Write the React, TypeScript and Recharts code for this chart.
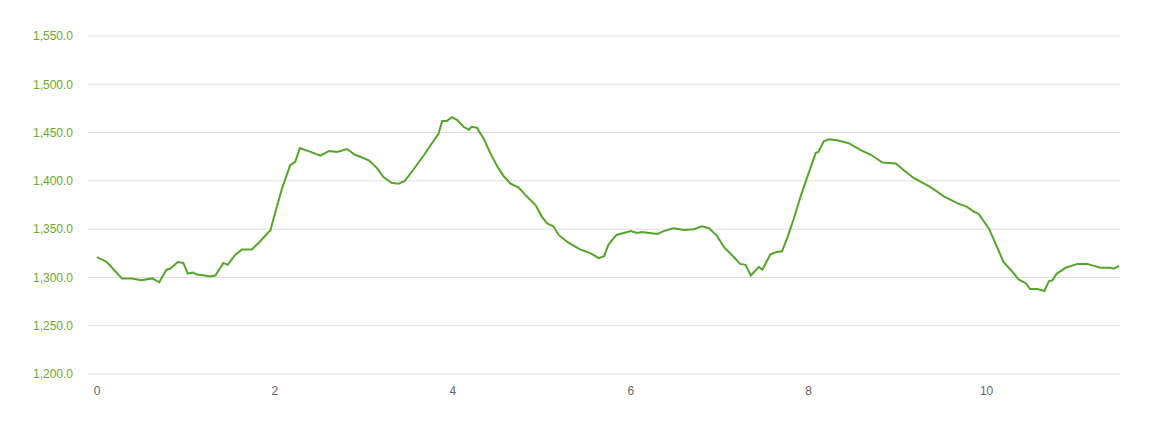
import { CartesianGrid, Line, LineChart, XAxis, YAxis } from 'recharts'

// distance along the route (km)
const distanceKm = [
  0.0, 0.11, 0.28, 0.39, 0.5, 0.62, 0.7, 0.78, 0.82, 0.91, 0.97, 1.02, 1.08, 1.12, 1.21, 1.27, 1.33, 1.42, 1.47,
  1.55, 1.63, 1.74, 1.83, 1.95, 2.0, 2.08, 2.17, 2.23, 2.28, 2.4, 2.51, 2.61, 2.7, 2.81, 2.9, 2.96, 3.06, 3.15,
  3.22, 3.31, 3.39, 3.46, 3.56, 3.67, 3.78, 3.84, 3.88, 3.93, 3.99, 4.05, 4.12, 4.18, 4.21, 4.27, 4.35, 4.42, 4.5,
  4.57, 4.65, 4.74, 4.83, 4.93, 5.0, 5.06, 5.13, 5.19, 5.3, 5.43, 5.55, 5.64, 5.7, 5.75, 5.84, 5.92, 6.0, 6.07,
  6.13, 6.21, 6.3, 6.37, 6.48, 6.6, 6.71, 6.8, 6.88, 6.97, 7.05, 7.14, 7.23, 7.29, 7.35, 7.44, 7.48, 7.57, 7.63,
  7.7, 7.76, 7.83, 7.91, 8.0, 8.08, 8.11, 8.17, 8.23, 8.32, 8.45, 8.58, 8.7, 8.83, 8.98, 9.07, 9.18, 9.36, 9.41,
  9.52, 9.67, 9.78, 9.86, 9.91, 10.03, 10.12, 10.19, 10.27, 10.36, 10.44, 10.49, 10.57, 10.65, 10.7, 10.74,
  10.79, 10.89, 11.02, 11.13, 11.28, 11.39, 11.43, 11.49,
]

// elevation (m)
const elevationM = [
  1321, 1316, 1299, 1299, 1297, 1299, 1295, 1308, 1309, 1316, 1315, 1304, 1305, 1303, 1302, 1301, 1302, 1315, 1313,
  1323, 1329, 1329, 1337, 1349, 1366, 1392, 1416, 1420, 1434, 1430, 1426, 1431, 1430, 1433, 1427, 1425, 1421, 1413,
  1404, 1398, 1397, 1400, 1412, 1426, 1441, 1449, 1462, 1462, 1466, 1463, 1456, 1453, 1456, 1455, 1443, 1429, 1415,
  1405, 1397, 1393, 1384, 1375, 1363, 1356, 1353, 1344, 1336, 1329, 1325, 1320, 1322, 1334, 1344, 1346, 1348, 1346,
  1347, 1346, 1345, 1348, 1351, 1349, 1350, 1353, 1351, 1343, 1331, 1323, 1314, 1313, 1302, 1311, 1308, 1324, 1326,
  1327, 1341, 1360, 1384, 1408, 1429, 1430, 1441, 1443, 1442, 1439, 1432, 1427, 1419, 1418, 1411, 1403, 1394, 1391,
  1384, 1377, 1373, 1368, 1366, 1350, 1331, 1316, 1308, 1298, 1294, 1288, 1288, 1286, 1296, 1297, 1304, 1310, 1314,
  1314, 1310, 1310, 1309, 1312,
]

const xTicks = [0, 2, 4, 6, 8, 10]
const yTicks = [1200, 1250, 1300, 1350, 1400, 1450, 1500, 1550]

const profile = distanceKm.map((d, i) => ({ distance: d, elevation: elevationM[i] }))

const fmtElevation = (v: number) =>
  v.toLocaleString('en-US', { minimumFractionDigits: 1, maximumFractionDigits: 1 })

function ElevationChart() {
  return (
    <div style={{ position: 'absolute', left: 0, top: 0, background: '#fff' }}>
      <LineChart
        width={1160}
        height={422}
        data={profile}
        margin={{ top: 36, right: 40, bottom: 18, left: 0 }}
        style={{ fontFamily: 'Arial, "Liberation Sans", sans-serif' }}
      >
        <CartesianGrid vertical={false} stroke="#dddddd" />
        <XAxis
          dataKey="distance"
          type="number"
          domain={[0, 11.5]}
          ticks={xTicks}
          padding={{ left: 9, right: 0 }}
          axisLine={false}
          tickLine={false}
          tickMargin={6}
          height={30}
          tick={{ fill: '#666666', fontSize: 12 }}
        />
        <YAxis
          type="number"
          domain={[1200, 1550]}
          ticks={yTicks}
          width={88}
          axisLine={false}
          tickLine={false}
          tickMargin={9}
          tickFormatter={fmtElevation}
          tick={{ fill: '#6aaa2e', fontSize: 12 }}
        />
        <Line
          type="linear"
          dataKey="elevation"
          stroke="#55a628"
          strokeWidth={2}
          dot={false}
          isAnimationActive={false}
        />
      </LineChart>
    </div>
  )
}

export default function App() {
  return <ElevationChart />
}
